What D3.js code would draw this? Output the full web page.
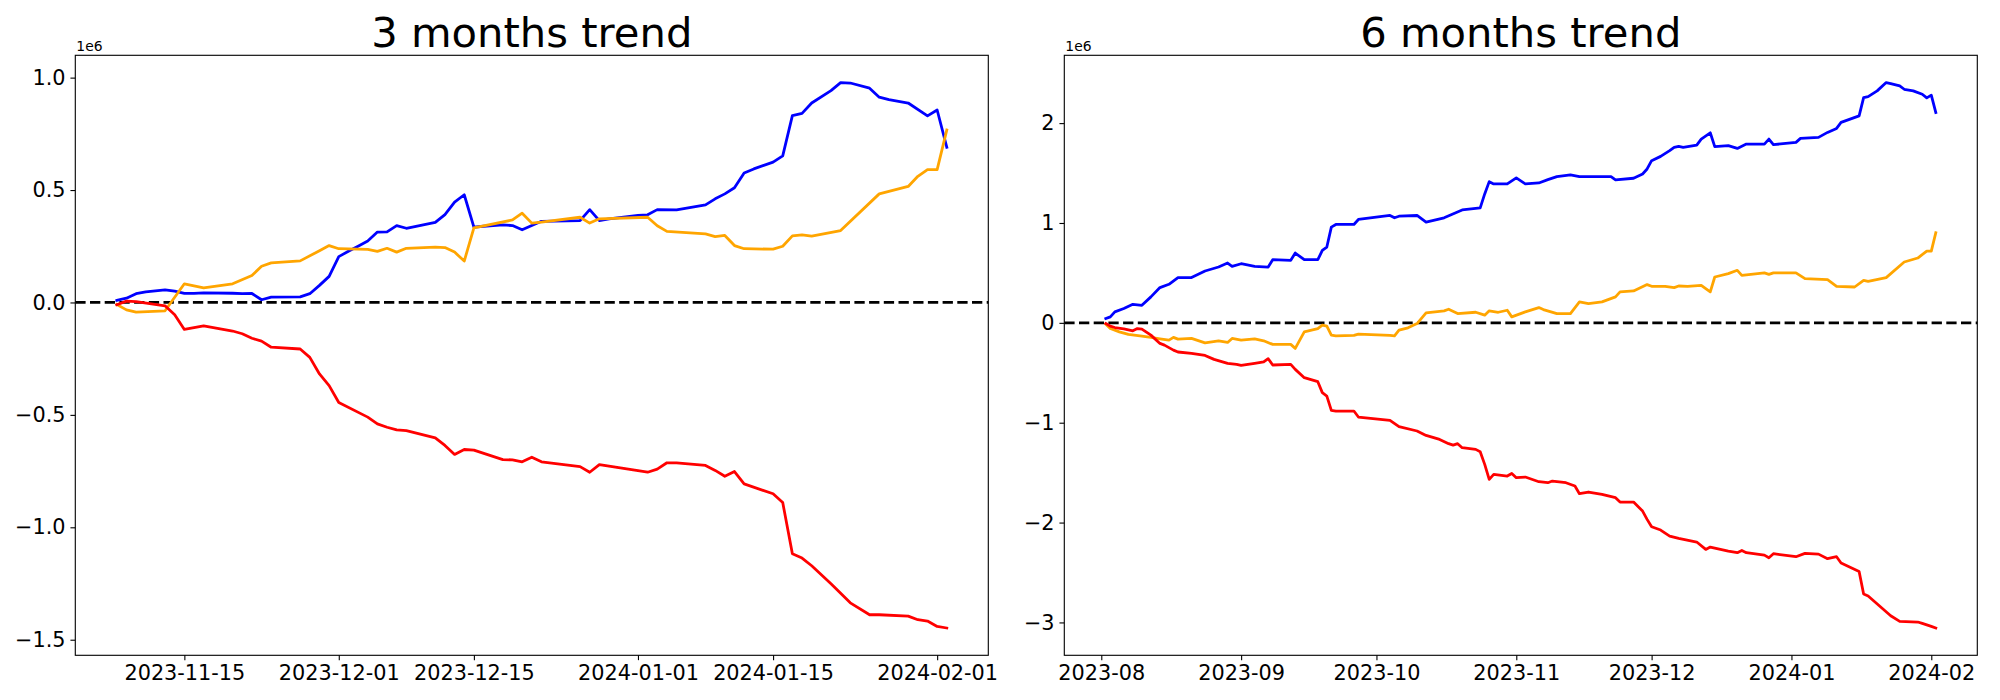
<!doctype html>
<html>
<head>
<meta charset="utf8">
<title>3 / 6 months trend</title>
<script src="https://cdn.jsdelivr.net/npm/d3@7"></script>
<style>
  body { margin: 0; background: #fff; }
  text { font-family: "DejaVu Sans", sans-serif; }
</style>
</head>
<body>
<div id="board"></div>
<script>
"use strict";
// values are in units of 1e6 (shown as the "1e6" offset label)
const offsetLabel = "1e6";

// ---- 3 months ----
const blue3m = [["2023-11-08",0.009],["2023-11-09",0.019],["2023-11-10",0.039],["2023-11-11",0.047],["2023-11-13",0.056],["2023-11-14",0.050],["2023-11-15",0.040],["2023-11-16",0.040],["2023-11-17",0.043],["2023-11-20",0.041],["2023-11-21",0.039],["2023-11-22",0.040],["2023-11-23",0.012],["2023-11-24",0.024],["2023-11-27",0.025],["2023-11-28",0.039],["2023-11-29",0.076],["2023-11-30",0.116],["2023-12-01",0.204],["2023-12-02",0.228],["2023-12-03",0.250],["2023-12-04",0.273],["2023-12-05",0.313],["2023-12-06",0.314],["2023-12-07",0.342],["2023-12-08",0.330],["2023-12-11",0.356],["2023-12-12",0.391],["2023-12-13",0.446],["2023-12-14",0.479],["2023-12-15",0.335],["2023-12-16",0.339],["2023-12-18",0.345],["2023-12-19",0.342],["2023-12-20",0.323],["2023-12-21",0.342],["2023-12-22",0.361],["2023-12-26",0.364],["2023-12-27",0.413],["2023-12-28",0.364],["2023-12-29",0.372],["2024-01-01",0.387],["2024-01-02",0.390],["2024-01-03",0.413],["2024-01-05",0.412],["2024-01-08",0.434],["2024-01-09",0.461],["2024-01-10",0.483],["2024-01-11",0.510],["2024-01-12",0.576],["2024-01-13",0.594],["2024-01-15",0.624],["2024-01-16",0.652],["2024-01-17",0.831],["2024-01-18",0.841],["2024-01-19",0.887],["2024-01-21",0.942],["2024-01-22",0.978],["2024-01-23",0.976],["2024-01-25",0.953],["2024-01-26",0.913],["2024-01-27",0.902],["2024-01-29",0.887],["2024-01-31",0.830],["2024-02-01",0.856],["2024-02-02",0.690]];

const orange3m = [["2023-11-08",-0.009],["2023-11-09",-0.033],["2023-11-10",-0.043],["2023-11-13",-0.037],["2023-11-15",0.083],["2023-11-17",0.065],["2023-11-20",0.083],["2023-11-22",0.120],["2023-11-23",0.161],["2023-11-24",0.176],["2023-11-27",0.185],["2023-11-29",0.230],["2023-11-30",0.253],["2023-12-01",0.239],["2023-12-04",0.236],["2023-12-05",0.227],["2023-12-06",0.241],["2023-12-07",0.224],["2023-12-08",0.241],["2023-12-11",0.246],["2023-12-12",0.244],["2023-12-13",0.224],["2023-12-14",0.184],["2023-12-15",0.332],["2023-12-19",0.367],["2023-12-20",0.397],["2023-12-21",0.353],["2023-12-22",0.357],["2023-12-26",0.379],["2023-12-27",0.353],["2023-12-28",0.372],["2024-01-02",0.379],["2024-01-03",0.341],["2024-01-04",0.316],["2024-01-08",0.305],["2024-01-09",0.293],["2024-01-10",0.298],["2024-01-11",0.253],["2024-01-12",0.239],["2024-01-15",0.237],["2024-01-16",0.250],["2024-01-17",0.296],["2024-01-18",0.301],["2024-01-19",0.295],["2024-01-22",0.320],["2024-01-26",0.483],["2024-01-29",0.516],["2024-01-30",0.561],["2024-01-31",0.591],["2024-02-01",0.591],["2024-02-02",0.767]];

const red3m = [["2023-11-08",-0.010],["2023-11-09",0.006],["2023-11-10",0.004],["2023-11-13",-0.015],["2023-11-14",-0.055],["2023-11-15",-0.120],["2023-11-17",-0.104],["2023-11-20",-0.127],["2023-11-21",-0.139],["2023-11-22",-0.159],["2023-11-23",-0.172],["2023-11-24",-0.199],["2023-11-27",-0.207],["2023-11-28",-0.244],["2023-11-29",-0.318],["2023-11-30",-0.370],["2023-12-01",-0.445],["2023-12-04",-0.510],["2023-12-05",-0.540],["2023-12-06",-0.555],["2023-12-07",-0.567],["2023-12-08",-0.570],["2023-12-11",-0.602],["2023-12-12",-0.636],["2023-12-13",-0.676],["2023-12-14",-0.654],["2023-12-15",-0.657],["2023-12-18",-0.699],["2023-12-19",-0.700],["2023-12-20",-0.709],["2023-12-21",-0.688],["2023-12-22",-0.709],["2023-12-26",-0.730],["2023-12-27",-0.755],["2023-12-28",-0.721],["2024-01-02",-0.755],["2024-01-03",-0.741],["2024-01-04",-0.713],["2024-01-05",-0.713],["2024-01-08",-0.725],["2024-01-09",-0.747],["2024-01-10",-0.773],["2024-01-11",-0.752],["2024-01-12",-0.807],["2024-01-15",-0.851],["2024-01-16",-0.890],["2024-01-17",-1.118],["2024-01-18",-1.137],["2024-01-19",-1.171],["2024-01-21",-1.251],["2024-01-23",-1.336],["2024-01-25",-1.389],["2024-01-26",-1.389],["2024-01-29",-1.395],["2024-01-30",-1.411],["2024-01-31",-1.417],["2024-02-01",-1.441],["2024-02-02",-1.448]];

const xTicks3m = ["2023-11-15","2023-12-01","2023-12-15","2024-01-01","2024-01-15","2024-02-01"];
const yTicks3m = [-1.5, -1.0, -0.5, 0.0, 0.5, 1.0];

// ---- 6 months ----
const blue6m = [["2023-08-02",0.043],["2023-08-03",0.060],["2023-08-04",0.110],["2023-08-06",0.143],["2023-08-08",0.186],["2023-08-10",0.176],["2023-08-12",0.260],["2023-08-14",0.353],["2023-08-16",0.386],["2023-08-18",0.453],["2023-08-21",0.453],["2023-08-24",0.519],["2023-08-27",0.559],["2023-08-29",0.599],["2023-08-30",0.566],["2023-09-01",0.592],["2023-09-04",0.566],["2023-09-07",0.559],["2023-09-08",0.632],["2023-09-12",0.626],["2023-09-13",0.699],["2023-09-15",0.632],["2023-09-18",0.632],["2023-09-19",0.725],["2023-09-20",0.759],["2023-09-21",0.958],["2023-09-22",0.985],["2023-09-26",0.985],["2023-09-27",1.035],["2023-10-04",1.075],["2023-10-05",1.052],["2023-10-06",1.068],["2023-10-10",1.075],["2023-10-12",1.008],["2023-10-16",1.052],["2023-10-20",1.131],["2023-10-24",1.151],["2023-10-25",1.291],["2023-10-26",1.414],["2023-10-27",1.391],["2023-10-30",1.391],["2023-11-01",1.451],["2023-11-03",1.391],["2023-11-06",1.401],["2023-11-08",1.434],["2023-11-10",1.464],["2023-11-13",1.481],["2023-11-15",1.464],["2023-11-22",1.464],["2023-11-23",1.431],["2023-11-27",1.448],["2023-11-29",1.491],["2023-11-30",1.541],["2023-12-01",1.624],["2023-12-03",1.667],["2023-12-05",1.724],["2023-12-06",1.757],["2023-12-07",1.767],["2023-12-08",1.757],["2023-12-11",1.780],["2023-12-12",1.840],["2023-12-14",1.903],["2023-12-15",1.764],["2023-12-18",1.774],["2023-12-20",1.747],["2023-12-22",1.790],["2023-12-26",1.790],["2023-12-27",1.840],["2023-12-28",1.784],["2024-01-02",1.807],["2024-01-03",1.847],["2024-01-07",1.857],["2024-01-09",1.907],["2024-01-11",1.947],["2024-01-12",2.007],["2024-01-16",2.073],["2024-01-17",2.256],["2024-01-18",2.266],["2024-01-20",2.323],["2024-01-22",2.406],["2024-01-23",2.396],["2024-01-25",2.373],["2024-01-26",2.339],["2024-01-28",2.323],["2024-01-30",2.289],["2024-01-31",2.253],["2024-02-01",2.280],["2024-02-02",2.106]];

const orange6m = [["2023-08-02",-0.013],["2023-08-03",-0.057],["2023-08-05",-0.090],["2023-08-07",-0.116],["2023-08-10",-0.133],["2023-08-12",-0.146],["2023-08-14",-0.160],["2023-08-16",-0.173],["2023-08-17",-0.146],["2023-08-18",-0.163],["2023-08-21",-0.156],["2023-08-24",-0.200],["2023-08-27",-0.180],["2023-08-29",-0.196],["2023-08-30",-0.156],["2023-09-01",-0.173],["2023-09-04",-0.160],["2023-09-06",-0.180],["2023-09-08",-0.216],["2023-09-12",-0.216],["2023-09-13",-0.256],["2023-09-15",-0.090],["2023-09-18",-0.057],["2023-09-19",-0.023],["2023-09-20",-0.033],["2023-09-21",-0.123],["2023-09-22",-0.130],["2023-09-26",-0.126],["2023-09-27",-0.113],["2023-10-04",-0.126],["2023-10-05",-0.130],["2023-10-06",-0.073],["2023-10-08",-0.050],["2023-10-10",-0.007],["2023-10-12",0.100],["2023-10-16",0.120],["2023-10-17",0.136],["2023-10-19",0.093],["2023-10-23",0.106],["2023-10-25",0.077],["2023-10-26",0.120],["2023-10-28",0.106],["2023-10-30",0.126],["2023-10-31",0.060],["2023-11-03",0.110],["2023-11-06",0.153],["2023-11-07",0.133],["2023-11-10",0.093],["2023-11-13",0.093],["2023-11-15",0.210],["2023-11-17",0.193],["2023-11-20",0.210],["2023-11-23",0.260],["2023-11-24",0.310],["2023-11-27",0.319],["2023-11-30",0.383],["2023-12-01",0.366],["2023-12-04",0.366],["2023-12-06",0.353],["2023-12-07",0.369],["2023-12-09",0.366],["2023-12-12",0.376],["2023-12-14",0.310],["2023-12-15",0.459],["2023-12-18",0.493],["2023-12-20",0.526],["2023-12-21",0.476],["2023-12-26",0.500],["2023-12-27",0.486],["2023-12-28",0.500],["2024-01-02",0.500],["2024-01-04",0.443],["2024-01-09",0.433],["2024-01-11",0.366],["2024-01-15",0.359],["2024-01-17",0.426],["2024-01-18",0.416],["2024-01-22",0.453],["2024-01-26",0.609],["2024-01-29",0.649],["2024-01-31",0.719],["2024-02-01",0.719],["2024-02-02",0.902]];

const red6m = [["2023-08-02",-0.007],["2023-08-03",-0.033],["2023-08-04",-0.047],["2023-08-06",-0.060],["2023-08-08",-0.080],["2023-08-09",-0.057],["2023-08-10",-0.063],["2023-08-12",-0.123],["2023-08-14",-0.206],["2023-08-15",-0.223],["2023-08-17",-0.273],["2023-08-18",-0.292],["2023-08-21",-0.306],["2023-08-24",-0.326],["2023-08-26",-0.366],["2023-08-29",-0.406],["2023-08-31",-0.416],["2023-09-01",-0.426],["2023-09-04",-0.406],["2023-09-06",-0.392],["2023-09-07",-0.359],["2023-09-08",-0.422],["2023-09-12",-0.416],["2023-09-13",-0.466],["2023-09-15",-0.549],["2023-09-18",-0.589],["2023-09-19",-0.699],["2023-09-20",-0.733],["2023-09-21",-0.876],["2023-09-22",-0.883],["2023-09-26",-0.883],["2023-09-27",-0.943],["2023-10-04",-0.977],["2023-10-06",-1.040],["2023-10-10",-1.083],["2023-10-12",-1.127],["2023-10-15",-1.167],["2023-10-17",-1.210],["2023-10-18",-1.224],["2023-10-19",-1.210],["2023-10-20",-1.250],["2023-10-23",-1.267],["2023-10-24",-1.290],["2023-10-25",-1.417],["2023-10-26",-1.568],["2023-10-27",-1.518],["2023-10-30",-1.534],["2023-10-31",-1.508],["2023-11-01",-1.551],["2023-11-03",-1.544],["2023-11-06",-1.591],["2023-11-08",-1.601],["2023-11-09",-1.584],["2023-11-12",-1.601],["2023-11-14",-1.634],["2023-11-15",-1.711],["2023-11-17",-1.694],["2023-11-20",-1.718],["2023-11-23",-1.751],["2023-11-24",-1.795],["2023-11-27",-1.795],["2023-11-29",-1.885],["2023-11-30",-1.968],["2023-12-01",-2.042],["2023-12-03",-2.075],["2023-12-05",-2.135],["2023-12-07",-2.159],["2023-12-11",-2.195],["2023-12-13",-2.269],["2023-12-14",-2.245],["2023-12-18",-2.285],["2023-12-20",-2.302],["2023-12-21",-2.279],["2023-12-22",-2.302],["2023-12-26",-2.326],["2023-12-27",-2.352],["2023-12-28",-2.312],["2024-01-02",-2.342],["2024-01-04",-2.309],["2024-01-07",-2.316],["2024-01-09",-2.362],["2024-01-11",-2.342],["2024-01-12",-2.405],["2024-01-16",-2.490],["2024-01-17",-2.716],["2024-01-18",-2.736],["2024-01-23",-2.933],["2024-01-25",-2.990],["2024-01-29",-2.996],["2024-01-30",-3.010],["2024-02-01",-3.040],["2024-02-02",-3.056]];

const xTicks6m = ["2023-08-01","2023-09-01","2023-10-01","2023-11-01","2023-12-01","2024-01-01","2024-02-01"];
const yTicks6m = [-3, -2, -1, 0, 1, 2];

const W = 2000, H = 700;
const lw = 2.78;            // line width in px (2pt)
const parse = d3.timeParse("%Y-%m-%d");

var svg = d3.select("#board").append("svg")
    .attr("width", W).attr("height", H)
    .style("display", "block");

function drawPanel(box, title, series, xTicks, xFmt, yTicks, yFmt){
    const g = svg.append("g");

    const all = series.flatMap(s => s.data);
    const xs = all.map(d => parse(d[0]).getTime());
    const ys = all.map(d => d[1]);
    let [x0, x1] = d3.extent(xs), [y0, y1] = d3.extent(ys);
    const px = (x1 - x0) * 0.05, py = (y1 - y0) * 0.05;

    const x = d3.scaleTime().domain([new Date(x0 - px), new Date(x1 + px)]).range([box.left, box.right]);
    const y = d3.scaleLinear().domain([y0 - py, y1 + py]).range([box.bottom, box.top]);

    // zero line
    g.append("line")
        .attr("x1", box.left).attr("x2", box.right)
        .attr("y1", y(0)).attr("y2", y(0))
        .attr("stroke", "black").attr("stroke-width", lw)
        .attr("stroke-dasharray", "10.3,4.4");

    const line = d3.line()
        .x(d => x(parse(d[0])))
        .y(d => y(d[1]));

    series.forEach(s => {
        g.append("path")
            .datum(s.data)
            .attr("d", line)
            .attr("fill", "none")
            .attr("stroke", s.color)
            .attr("stroke-width", lw)
            .attr("stroke-linejoin", "round")
            .attr("stroke-linecap", "square");
    });

    // axes
    const xAxis = d3.axisBottom(x)
        .tickValues(xTicks.map(parse))
        .tickFormat(xFmt)
        .tickSize(4.86).tickPadding(4.86);
    const yAxis = d3.axisLeft(y)
        .tickValues(yTicks)
        .tickFormat(yFmt)
        .tickSize(4.86).tickPadding(4.86);

    const gx = g.append("g").attr("transform", "translate(0," + box.bottom + ")").call(xAxis);
    const gy = g.append("g").attr("transform", "translate(" + box.left + ",0)").call(yAxis);
    [gx, gy].forEach(a => {
        a.select(".domain").remove();
        a.selectAll("line").attr("stroke", "black").attr("stroke-width", 1.11);
        a.selectAll("text")
            .attr("fill", "black")
            .style("font-family", "'DejaVu Sans', sans-serif")
            .style("font-size", "20.8px");
    });

    // frame
    g.append("rect")
        .attr("x", box.left).attr("y", box.top)
        .attr("width", box.right - box.left).attr("height", box.bottom - box.top)
        .attr("fill", "none").attr("stroke", "black").attr("stroke-width", 1.11);

    g.append("text")
        .attr("x", box.left + 1).attr("y", box.top - 4.3)
        .style("font-size", "13.9px")
        .text(offsetLabel);

    g.append("text")
        .attr("x", (box.left + box.right) / 2).attr("y", box.top - 8.3)
        .attr("text-anchor", "middle")
        .style("font-size", "41.7px")
        .text(title);
}

drawPanel({left: 75.3, right: 988.3, top: 55.3, bottom: 655.3}, "3 months trend",
    [{data: blue3m, color: "blue"}, {data: orange3m, color: "orange"}, {data: red3m, color: "red"}],
    xTicks3m, d3.timeFormat("%Y-%m-%d"), yTicks3m, d3.format(".1f"));

drawPanel({left: 1064.3, right: 1977.3, top: 55.3, bottom: 655.3}, "6 months trend",
    [{data: blue6m, color: "blue"}, {data: orange6m, color: "orange"}, {data: red6m, color: "red"}],
    xTicks6m, d3.timeFormat("%Y-%m"), yTicks6m, d3.format("d"));
</script>
</body>
</html>
